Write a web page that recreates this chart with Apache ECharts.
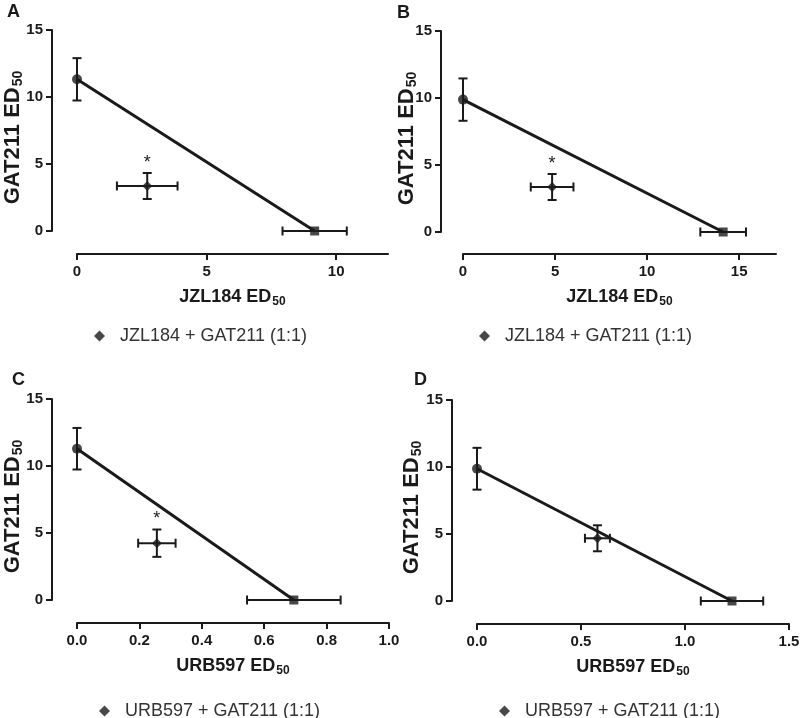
<!DOCTYPE html>
<html>
<head>
<meta charset="utf-8">
<script src="https://cdn.jsdelivr.net/npm/echarts@6/dist/echarts.min.js"></script>
<style>
html,body{margin:0;padding:0;background:#fff;}
#chart{width:800px;height:718px;}
</style>
</head>
<body>
<div id="chart"></div>
<script>
// ---------- data ----------
const panelLetters = ['A', 'B', 'C', 'D'];
const xDrugs = ['JZL184', 'JZL184', 'URB597', 'URB597'];
const legendNames = ['JZL184 + GAT211 (1:1)', 'JZL184 + GAT211 (1:1)', 'URB597 + GAT211 (1:1)', 'URB597 + GAT211 (1:1)'];
const yName = 'GAT211';
// GAT211 alone ED50 (plotted at x = 0)
const gatMean = [11.32, 9.88, 11.29, 9.87];
const gatSem = [1.58, 1.58, 1.55, 1.56];
// inhibitor alone ED50 (plotted at y = 0)
const inhMean = [9.17, 14.13, 0.695, 1.226];
const inhSem = [1.24, 1.24, 0.15, 0.15];
// combination (1:1) ED50
const comboX = [2.71, 4.84, 0.256, 0.579];
const comboXSem = [1.17, 1.16, 0.06, 0.06];
const comboY = [3.36, 3.36, 4.24, 4.68];
const comboYSem = [0.97, 0.97, 1.02, 0.97];
const significant = [1, 1, 1, 0];
// axes
const xMax = [12, 17, 1.0, 1.5];
const xTickValues = [[0, 5, 10], [0, 5, 10, 15], [0, 0.2, 0.4, 0.6, 0.8, 1.0], [0, 0.5, 1.0, 1.5]];
const xTickDecimals = [0, 0, 1, 1];
const yTickValues = [0, 5, 10, 15];
const yMax = 15;

// ---------- layout ----------
const INK = '#1a1a1a';
const FONT = "'Liberation Sans', Arial, sans-serif";
const grids = [
  {left: 77, top: 30, width: 311, height: 201},
  {left: 463, top: 31, width: 313, height: 201},
  {left: 77, top: 399, width: 312, height: 201},
  {left: 477, top: 400, width: 312, height: 201}
].map(g => Object.assign(g, {outerBoundsMode: 'none', containLabel: false}));
const xOffsets = [23, 22, 23, 23];
const yOffsets = [25, 22, 25, 25];
const yNameGaps = [27, 22, 27, 28];
const xNameGaps = [33, 33, 33, 33];
const legendPos = [
  {left: 89, top: 322},
  {left: 474, top: 322},
  {left: 94, top: 697},
  {left: 494, top: 697}
];
const letterPos = [[7, 3], [397, 4], [12, 371], [414, 371]];

const nameRich = {
  b: {fontSize: 18, fontWeight: 'bold', color: INK, fontFamily: FONT},
  s: {fontSize: 12, fontWeight: 'bold', color: INK, fontFamily: FONT, padding: [9, 0, 0, 1]}
};
const yNameRich = {
  b: {fontSize: 22, fontWeight: 'bold', color: INK, fontFamily: FONT},
  s: {fontSize: 14, fontWeight: 'bold', color: INK, fontFamily: FONT, padding: [10, 0, 0, 1]}
};

function renderErr(params, api) {
  const x = api.value(0), y = api.value(1), ex = api.value(2), ey = api.value(3), sig = api.value(4);
  const cap = 4.5;
  const children = [];
  const ls = {stroke: INK, lineWidth: 2};
  if (ey > 0) {
    const t = api.coord([x, y + ey]);
    const b = api.coord([x, y - ey]);
    children.push({type: 'line', shape: {x1: t[0], y1: t[1], x2: b[0], y2: b[1]}, style: ls});
    children.push({type: 'line', shape: {x1: t[0] - cap, y1: t[1], x2: t[0] + cap, y2: t[1]}, style: ls});
    children.push({type: 'line', shape: {x1: b[0] - cap, y1: b[1], x2: b[0] + cap, y2: b[1]}, style: ls});
    if (sig) {
      children.push({type: 'text', x: t[0], y: t[1] - 10,
        style: {text: '*', fill: INK, font: '18px ' + FONT, textAlign: 'center', textVerticalAlign: 'middle'}});
    }
  }
  if (ex > 0) {
    const l = api.coord([x - ex, y]);
    const r = api.coord([x + ex, y]);
    children.push({type: 'line', shape: {x1: l[0], y1: l[1], x2: r[0], y2: r[1]}, style: ls});
    children.push({type: 'line', shape: {x1: l[0], y1: l[1] - cap, x2: l[0], y2: l[1] + cap}, style: ls});
    children.push({type: 'line', shape: {x1: r[0], y1: r[1] - cap, x2: r[0], y2: r[1] + cap}, style: ls});
  }
  return {type: 'group', children: children};
}

const xAxes = [], yAxes = [], series = [], legends = [], graphics = [];
for (let i = 0; i < 4; i++) {
  const dec = xTickDecimals[i];
  xAxes.push({
    type: 'value', gridIndex: i, min: 0, max: xMax[i], position: 'bottom', offset: xOffsets[i],
    axisLine: {show: true, onZero: false, lineStyle: {color: INK, width: 2}},
    axisTick: {show: true, length: 6, lineStyle: {color: INK, width: 2}, customValues: xTickValues[i]},
    axisLabel: {customValues: xTickValues[i], formatter: v => Number(v).toFixed(dec),
      fontSize: 15, fontWeight: 'bold', color: INK, fontFamily: FONT, margin: 10},
    splitLine: {show: false},
    name: '{b|' + xDrugs[i] + ' ED}{s|50}', nameLocation: 'middle', nameGap: xNameGaps[i],
    nameMoveOverlap: false,
    nameTextStyle: {rich: nameRich}
  });
  yAxes.push({
    type: 'value', gridIndex: i, min: 0, max: yMax, interval: 5, position: 'left', offset: yOffsets[i],
    axisLine: {show: true, onZero: false, lineStyle: {color: INK, width: 2}},
    axisTick: {show: true, length: 6, lineStyle: {color: INK, width: 2}},
    axisLabel: {fontSize: 15, fontWeight: 'bold', color: INK, fontFamily: FONT, margin: 9},
    splitLine: {show: false},
    name: '{b|' + yName + ' ED}{s|50}', nameLocation: 'middle', nameGap: yNameGaps[i],
    nameMoveOverlap: false,
    nameTextStyle: {rich: yNameRich, padding: [0, 14, 0, 0]}
  });
  // additive (isobole) line
  series.push({
    type: 'line', xAxisIndex: i, yAxisIndex: i, symbol: 'none', silent: true,
    data: [[0, gatMean[i]], [inhMean[i], 0]],
    lineStyle: {color: INK, width: 3}, z: 2
  });
  // error bars
  series.push({
    type: 'custom', xAxisIndex: i, yAxisIndex: i, clip: false, silent: true, renderItem: renderErr, z: 3,
    data: [
      [0, gatMean[i], 0, gatSem[i], 0],
      [inhMean[i], 0, inhSem[i], 0, 0],
      [comboX[i], comboY[i], comboXSem[i], comboYSem[i], significant[i]]
    ]
  });
  series.push({
    type: 'scatter', xAxisIndex: i, yAxisIndex: i, symbol: 'circle', symbolSize: 10, silent: true,
    itemStyle: {color: INK}, data: [[0, gatMean[i]]], z: 4
  });
  series.push({
    type: 'scatter', xAxisIndex: i, yAxisIndex: i, symbol: 'rect', symbolSize: 9, silent: true,
    itemStyle: {color: INK}, data: [[inhMean[i], 0]], z: 4
  });
  series.push({
    type: 'scatter', name: legendNames[i], xAxisIndex: i, yAxisIndex: i, symbol: 'diamond', symbolSize: 10, silent: true,
    itemStyle: {color: INK}, data: [[comboX[i], comboY[i]]], z: 4
  });
  legends.push({
    data: [legendNames[i]], left: legendPos[i].left, top: legendPos[i].top, icon: 'diamond',
    itemWidth: 11, itemHeight: 11, selectedMode: false,
    itemStyle: {color: INK},
    textStyle: {fontSize: 18, color: '#333', fontFamily: FONT, padding: [0, 0, 0, 10]}
  });
  graphics.push({
    type: 'text', left: letterPos[i][0], top: letterPos[i][1],
    style: {text: panelLetters[i], font: 'bold 18px ' + FONT, fill: INK}
  });
}

const chart = echarts.init(document.getElementById('chart'), null, {renderer: 'canvas'});
chart.setOption({
  animation: false,
  backgroundColor: '#fff',
  grid: grids,
  xAxis: xAxes,
  yAxis: yAxes,
  legend: legends,
  graphic: graphics,
  series: series
});
</script>
</body>
</html>
